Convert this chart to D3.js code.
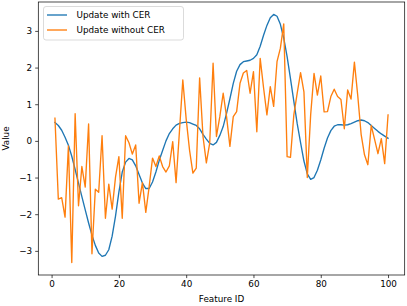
<!DOCTYPE html>
<html>
<head>
<meta charset="utf-8">
<script src="https://cdn.jsdelivr.net/npm/d3@7"></script>
<style>
  html, body { margin: 0; padding: 0; background: #fff; }
  svg { display: block; }
  text { font-family: "DejaVu Sans", sans-serif; fill: #000; }
</style>
</head>
<body>
<svg id="chart" width="407" height="306"></svg>
<script>
// ---- data ----
const featureIds = d3.range(1, 101);
const withCER = [
  0.50, 0.42, 0.29, 0.10, -0.12, -0.42, -0.78, -1.15, -1.52, -1.88,
  -2.24, -2.57, -2.85, -3.06, -3.15, -3.12, -2.97, -2.60, -2.05, -1.40,
  -0.85, -0.58, -0.48, -0.52, -0.68, -0.92, -1.15, -1.30, -1.30, -1.12,
  -0.85, -0.53, -0.26, 0.00, 0.20, 0.33, 0.43, 0.48, 0.50, 0.51,
  0.50, 0.46, 0.42, 0.33, 0.18, 0.05, -0.07, -0.11, -0.04, 0.15,
  0.39, 0.75, 1.15, 1.57, 1.90, 2.08, 2.16, 2.18, 2.20, 2.25,
  2.35, 2.58, 2.88, 3.15, 3.36, 3.45, 3.40, 3.18, 2.80, 2.30,
  1.70, 1.08, 0.47, -0.05, -0.55, -0.90, -1.05, -1.00, -0.80, -0.52,
  -0.20, 0.08, 0.28, 0.40, 0.44, 0.44, 0.43, 0.44, 0.47, 0.51,
  0.55, 0.57, 0.55, 0.50, 0.42, 0.34, 0.26, 0.19, 0.13, 0.07
];
const withoutCER = [
  0.62, -1.59, -1.55, -2.08, -0.14, -3.32, 0.74, -1.77, -0.70, -1.26,
  0.46, -3.08, -1.32, -1.40, 0.14, -2.11, -1.18, -1.86, -0.99, -0.43,
  -2.11, 0.14, -0.05, -0.36, -0.11, -1.70, -1.14, -1.95, -1.25, -0.47,
  -0.70, -0.41, -0.70, -0.85, -0.68, -0.02, -1.14, 0.26, 1.66, 0.60,
  -0.25, -0.88, -0.74, 1.72, 0.12, -0.60, -0.06, 2.12, 0.12, 0.66,
  1.30, 0.66, -0.15, 0.66, 0.80, 1.57, 1.85, 1.92, 1.30, 1.89,
  0.25, 2.25, 1.45, 0.71, 1.48, 0.94, 2.16, 2.53, 3.19, -0.43,
  -0.45, 0.71, 1.30, 1.86, 1.34, -1.00, 0.71, 1.84, 1.25, 1.77,
  0.79, 0.80, 1.21, 1.41, 1.21, 1.13, 0.33, 1.39, 1.14, 2.15,
  1.23, 0.18, -0.38, -0.65, 0.42, 0.04, -0.35, 0.06, -0.62, 0.71
];
const seriesNames = ["Update with CER", "Update without CER"];
const seriesColors = ["#1f77b4", "#ff7f0e"];
const xTicks = [0, 20, 40, 60, 80, 100];
const yTicks = [-3, -2, -1, 0, 1, 2, 3];
const xLabel = "Feature ID";
const yLabel = "Value";

// ---- layout ----
const W = 407, H = 306;
const plot = { left: 38.3, right: 404.7, top: 2, bottom: 275 };
const fontSize = 8.8;

const svg = d3.select("#chart");

// matplotlib-like 5% margins
const xExt = d3.extent(featureIds);
const xPad = (xExt[1] - xExt[0]) * 0.05;
const allY = withCER.concat(withoutCER);
const yExt = d3.extent(allY);
const yPad = (yExt[1] - yExt[0]) * 0.05;

const x = d3.scaleLinear().domain([xExt[0] - xPad, xExt[1] + xPad]).range([plot.left, plot.right]);
const y = d3.scaleLinear().domain([yExt[0] - yPad, yExt[1] + yPad]).range([plot.bottom, plot.top]);

// lines
const series = [withCER, withoutCER];
const line = d3.line().x((d, i) => x(featureIds[i])).y(d => y(d));
const g = svg.append("g");
series.forEach((s, k) => {
  g.append("path")
    .datum(s)
    .attr("d", line)
    .attr("fill", "none")
    .attr("stroke", seriesColors[k])
    .attr("stroke-width", 1.35)
    .attr("stroke-linejoin", "round")
    .attr("stroke-linecap", "square");
});

// axes
const xAxis = d3.axisBottom(x).tickValues(xTicks).tickSize(3.1).tickPadding(3.1).tickFormat(d3.format("d"));
const yAxis = d3.axisLeft(y).tickValues(yTicks).tickSize(3.1).tickPadding(3.1)
  .tickFormat(d => d < 0 ? "\u2212" + Math.abs(d) : String(d));

const gx = svg.append("g").attr("transform", `translate(0,${plot.bottom})`).call(xAxis);
const gy = svg.append("g").attr("transform", `translate(${plot.left},0)`).call(yAxis);
[gx, gy].forEach(ga => {
  ga.select(".domain").remove();
  ga.selectAll(".tick line").attr("stroke", "#000").attr("stroke-width", 0.7);
  ga.selectAll(".tick text").attr("font-size", fontSize).attr("font-family", "DejaVu Sans, sans-serif").attr("fill", "#000");
});

// frame (spines)
svg.append("rect")
  .attr("x", plot.left).attr("y", plot.top)
  .attr("width", plot.right - plot.left).attr("height", plot.bottom - plot.top)
  .attr("fill", "none").attr("stroke", "#000").attr("stroke-width", 0.7);

// axis labels
svg.append("text")
  .attr("x", (plot.left + plot.right) / 2).attr("y", 302)
  .attr("text-anchor", "middle").attr("font-size", fontSize)
  .text(xLabel);
svg.append("text")
  .attr("transform", `translate(9,${(plot.top + plot.bottom) / 2}) rotate(-90)`)
  .attr("text-anchor", "middle").attr("font-size", fontSize)
  .text(yLabel);

// legend
const lg = svg.append("g");
lg.append("rect")
  .attr("x", 43.5).attr("y", 6.5).attr("width", 140).attr("height", 33.5)
  .attr("rx", 2.5).attr("ry", 2.5)
  .attr("fill", "#fff").attr("fill-opacity", 0.8)
  .attr("stroke", "#cccccc").attr("stroke-width", 0.7);
seriesNames.forEach((name, k) => {
  const cy = 15 + k * 15;
  lg.append("line")
    .attr("x1", 47).attr("x2", 67).attr("y1", cy).attr("y2", cy)
    .attr("stroke", seriesColors[k]).attr("stroke-width", 1.35);
  lg.append("text")
    .attr("x", 76.5).attr("y", cy).attr("dy", "0.35em")
    .attr("font-size", fontSize)
    .text(name);
});
</script>
</body>
</html>
